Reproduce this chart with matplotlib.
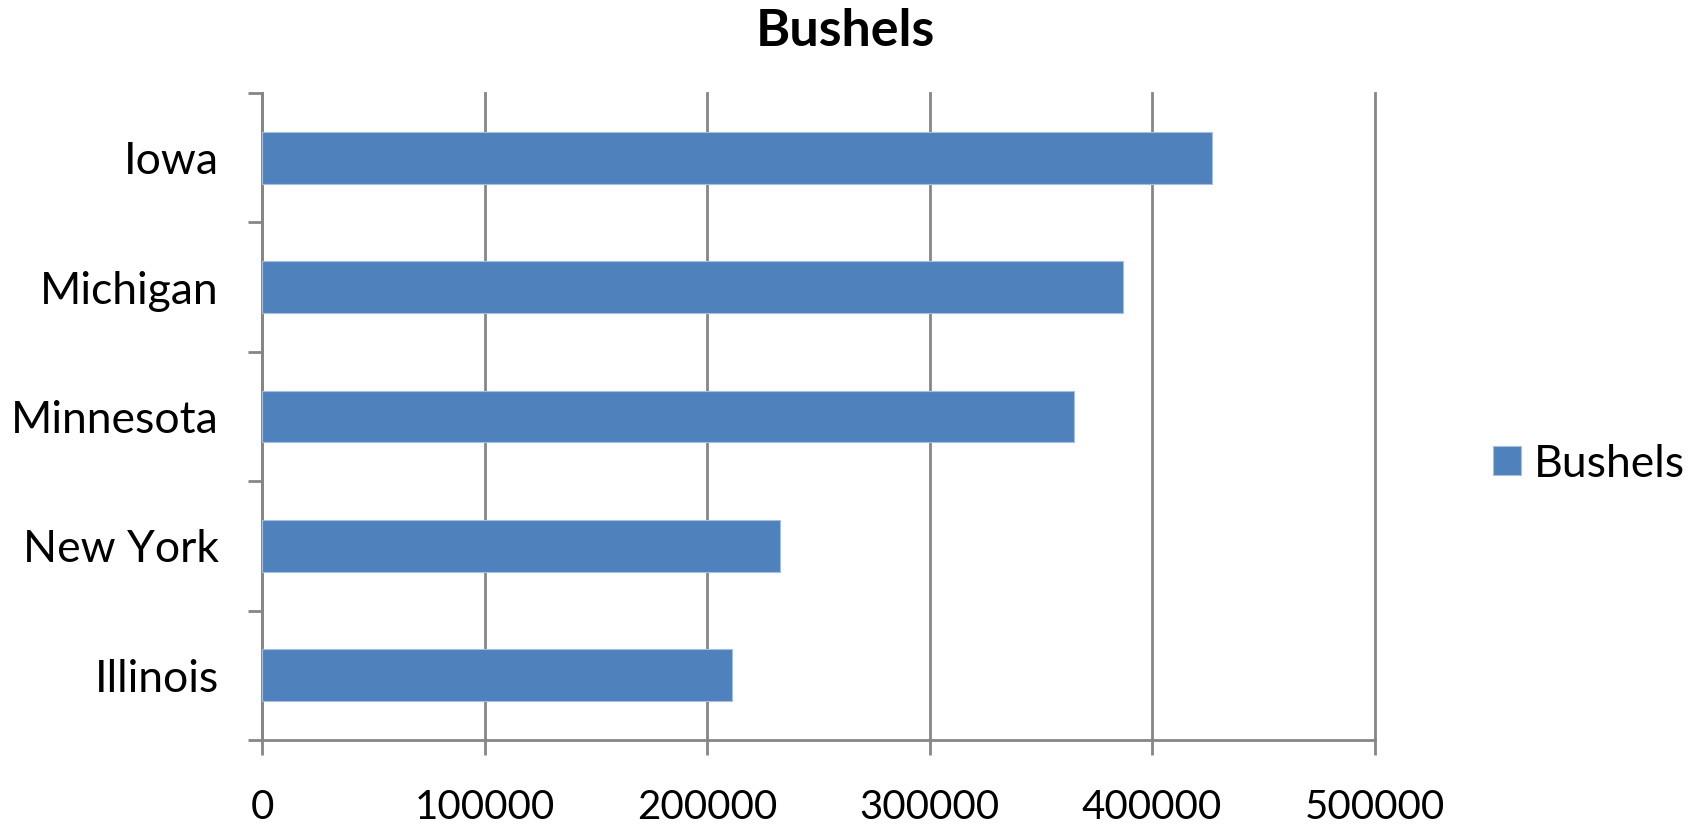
import matplotlib
matplotlib.use('Agg')
import matplotlib.pyplot as plt
import numpy as np

# data, bottom to top as drawn
states = ['Illinois', 'New York', 'Minnesota', 'Michigan', 'Iowa']
bushels = [211400, 232800, 365100, 387100, 426800]
x_ticks = [0, 100000, 200000, 300000, 400000, 500000]

plt.rcParams['font.family'] = ['Lato', 'DejaVu Sans']

bar_color = '#4F81BD'
axis_gray = '#868686'

fig = plt.figure(figsize=(16.96, 8.30), dpi=100)
ax = fig.add_axes([262 / 1696, 1 - 740 / 830, (1374.5 - 262) / 1696, (740 - 93) / 830])

y = np.arange(len(states))
ax.barh(y, bushels, height=0.4, color=bar_color, edgecolor='#a7bfde', linewidth=0.8,
        label='Bushels', zorder=3)

ax.set_xlim(0, 500000)
ax.set_ylim(-0.5, len(states) - 0.5)
ax.set_xticks(x_ticks)
ax.set_xticklabels([str(v) for v in x_ticks])
ax.set_yticks(y)
ax.set_yticklabels(states)
ax.set_yticks(np.arange(-0.5, len(states)), minor=True)

ax.grid(axis='x', color=axis_gray, linewidth=2.0, zorder=0)
ax.set_axisbelow(True)
for gl in ax.get_xgridlines():
    gl.set_clip_on(False)

for side in ['top', 'right']:
    ax.spines[side].set_visible(False)
for side in ['left', 'bottom']:
    ax.spines[side].set_color(axis_gray)
    ax.spines[side].set_linewidth(2.0)

ax.tick_params(axis='y', which='major', length=0, pad=31, labelsize=32)
ax.tick_params(axis='y', which='minor', length=10, width=2.0, color=axis_gray, direction='out')
ax.tick_params(axis='x', which='major', length=10.5, width=2.0, color=axis_gray,
               direction='out', pad=25, labelsize=29)

fig.text(845.5 / 1696, 1 - 31.5 / 830, 'Bushels', ha='center', va='center',
         fontsize=37.5, fontweight='bold')

fig.legend(loc='center left', bbox_to_anchor=(1493 / 1696, 1 - 464 / 830),
           frameon=False, fontsize=32, handlelength=0.63, handleheight=0.63,
           handletextpad=0.3, borderpad=0, borderaxespad=0)

fig.savefig('out.png', dpi=100)
